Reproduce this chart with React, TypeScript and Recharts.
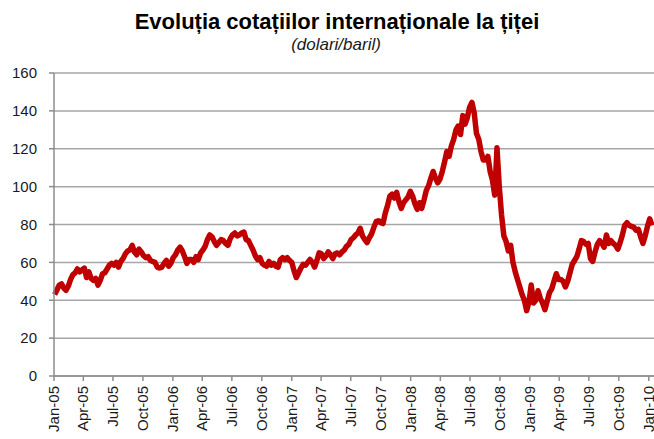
import { CartesianGrid, Line, LineChart, XAxis, YAxis } from "recharts";

// Weekly WTI quotes (USD/bbl); first point is Mon 3 Jan 2005.
const FIRST_WEEK = Date.UTC(2005, 0, 3);
const WEEK_MS = 7 * 24 * 3600 * 1000;

const PRICES_2005 = [
  43.0, 45.4, 48.0, 48.6, 46.5, 45.3, 47.5, 51.0, 53.5, 54.5, 56.5, 55.0, 56.0,
  57.0, 52.0, 55.0, 51.5, 50.5, 51.5, 48.0, 50.5, 54.0, 54.5, 56.5, 58.5, 59.5,
  58.5, 60.0, 57.5, 60.5, 62.0, 64.5, 66.0, 66.5, 69.0, 65.5, 64.0, 67.0, 65.5,
  63.5, 62.5, 63.0, 61.0, 60.5, 60.0, 57.5, 57.0, 57.5, 59.5, 61.0, 58.0, 59.5,
];
const PRICES_2006 = [
  62.5, 64.0, 66.5, 68.0, 66.0, 63.0, 59.5, 61.5, 61.5, 60.0, 63.0, 61.5, 65.0,
  66.5, 68.5, 72.0, 74.5, 73.5, 71.0, 69.0, 70.5, 72.0, 71.5, 70.0, 69.0, 72.5,
  74.5, 75.5, 74.0, 74.5, 75.5, 76.0, 72.0, 71.5, 69.0, 66.5, 63.5, 61.5, 62.5,
  59.5, 58.5, 58.0, 60.5, 58.5, 59.5, 58.0, 57.5, 61.5, 62.5, 61.5, 62.5, 61.0,
];
const PRICES_2007 = [
  60.0, 55.5, 52.0, 54.5, 57.0, 59.0, 58.5, 60.0, 61.5, 60.0, 57.5, 61.0, 65.0,
  64.5, 62.0, 63.5, 65.5, 64.0, 62.0, 64.5, 65.0, 64.0, 65.5, 66.5, 68.5, 69.5,
  72.0, 73.0, 74.5, 75.5, 78.0, 74.0, 72.0, 70.5, 73.0, 75.0, 78.5, 81.5, 82.0,
  81.0, 80.5, 86.0, 90.0, 95.0, 96.0, 94.0, 97.0, 92.0, 88.5, 91.5, 93.0, 94.5,
  97.5,
];
const PRICES_2008 = [
  95.0, 91.0, 88.0, 91.5, 88.5, 93.0, 98.0, 100.5, 104.5, 108.0, 104.5, 102.0,
  104.0, 108.0, 113.0, 118.5, 116.0, 121.5, 125.0, 130.0, 132.0, 127.5, 137.5,
  133.0, 136.5, 142.0, 144.5, 139.0, 128.0, 125.0, 118.5, 114.0, 114.0, 116.0,
  108.0, 103.5, 95.5, 120.5, 100.0, 85.0, 74.0, 71.0, 66.0, 69.0, 60.0, 55.0,
  51.0, 47.0, 43.0, 40.0, 34.5, 39.0,
];
const PRICES_2009 = [
  48.0, 38.5, 40.0, 45.0, 41.0, 38.5, 35.0, 39.5, 44.0, 46.0, 50.0, 54.0, 51.0,
  51.0, 50.0, 47.0, 50.0, 54.5, 59.0, 61.0, 63.0, 67.0, 71.5, 71.0, 69.5, 70.0,
  62.0, 60.5, 65.5, 69.5, 71.5, 70.0, 68.0, 74.5, 70.0, 71.5, 70.0, 69.0, 67.0,
  70.5, 74.5, 79.5, 81.0, 79.5, 79.0, 78.5, 77.0, 77.5, 73.5, 70.0, 74.0, 79.0,
];
const PRICES_2010 = [83.0, 79.5];

const PRICES = [
  ...PRICES_2005,
  ...PRICES_2006,
  ...PRICES_2007,
  ...PRICES_2008,
  ...PRICES_2009,
  ...PRICES_2010,
];

const TICK_DATES = [
  "2005-01-01", "2005-04-01", "2005-07-01", "2005-10-01",
  "2006-01-01", "2006-04-01", "2006-07-01", "2006-10-01",
  "2007-01-01", "2007-04-01", "2007-07-01", "2007-10-01",
  "2008-01-01", "2008-04-01", "2008-07-01", "2008-10-01",
  "2009-01-01", "2009-04-01", "2009-07-01", "2009-10-01",
  "2010-01-01",
];
const TICK_LABELS = [
  "Jan-05", "Apr-05", "Jul-05", "Oct-05",
  "Jan-06", "Apr-06", "Jul-06", "Oct-06",
  "Jan-07", "Apr-07", "Jul-07", "Oct-07",
  "Jan-08", "Apr-08", "Jul-08", "Oct-08",
  "Jan-09", "Apr-09", "Jul-09", "Oct-09",
  "Jan-10",
];
const Y_TICKS = [0, 20, 40, 60, 80, 100, 120, 140, 160];

const X_START = Date.parse("2005-01-01");
const X_END = Date.parse("2010-01-17");

const data = PRICES.map((price, i) => ({ ts: FIRST_WEEK + i * WEEK_MS, price }));
const xTicks = TICK_DATES.map((d) => Date.parse(d));

const FONT = '"Liberation Sans", Arial, sans-serif';
const GRID = "#a6a6a6";

function QuarterTick(props: any) {
  const { x, y, index } = props;
  return (
    <text
      x={x}
      y={y}
      dy={5}
      transform={`rotate(-90 ${x} ${y})`}
      textAnchor="end"
      fontFamily={FONT}
      fontSize={15}
      fill="#1a1a1a"
    >
      {TICK_LABELS[index]}
    </text>
  );
}

export default function App() {
  return (
    <div style={{ position: "relative", width: 654, height: 439, background: "#fff" }}>
      <style>{"body{margin:0}"}</style>
      <svg
        width={654}
        height={60}
        style={{ position: "absolute", left: 0, top: 0, pointerEvents: "none" }}
      >
        <text x={337} y={29} textAnchor="middle" fontFamily={FONT} fontWeight="bold" fontSize={22} fill="#000">
          Evoluția cotațiilor internaționale la țiței
        </text>
        <text x={336} y={50} textAnchor="middle" fontFamily={FONT} fontStyle="italic" fontSize={17} fill="#1a1a1a">
          (dolari/baril)
        </text>
      </svg>
      <LineChart
        width={654}
        height={439}
        data={data}
        margin={{ top: 73, right: 0, bottom: 0, left: 8 }}
      >
        <CartesianGrid vertical={false} stroke={GRID} strokeWidth={1.5} />
        <XAxis
          dataKey="ts"
          type="number"
          domain={[X_START, X_END]}
          ticks={xTicks}
          interval={0}
          height={63}
          tickSize={5}
          tickMargin={5}
          stroke="#8c8c8c"
          strokeWidth={1.5}
          tick={<QuarterTick />}
        />
        <YAxis
          type="number"
          domain={[0, 160]}
          ticks={Y_TICKS}
          interval={0}
          width={46}
          tickSize={5}
          tickMargin={12}
          stroke="#8c8c8c"
          strokeWidth={1.5}
          tick={{ fill: "#1a1a1a", fontSize: 15, fontFamily: FONT }}
        />
        <Line
          type="linear"
          dataKey="price"
          stroke="#c00000"
          strokeWidth={5.5}
          strokeLinejoin="round"
          dot={false}
          isAnimationActive={false}
        />
      </LineChart>
    </div>
  );
}
